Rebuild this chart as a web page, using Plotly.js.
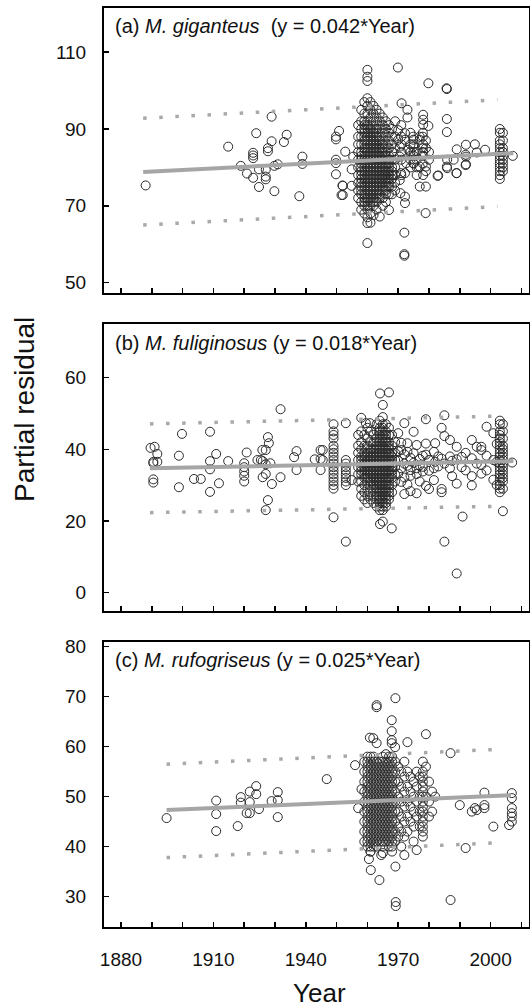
<!DOCTYPE html>
<html>
<head>
<meta charset="utf-8">
<script src="https://cdn.plot.ly/plotly-3.0.1.min.js"></script>
<style>html,body{margin:0;padding:0;background:#fff;}#chart{width:530px;height:1007px;}</style>
</head>
<body>
<div id="chart"></div>
<script>
// ---------- Panel (a) M. giganteus ----------
var aSparseYears = [1888,1914.8,1918.9,1922.9,1922.9,1922.9,1923.9,1920.9,1922.9,1924.8,1924.8,1927,1927,1927,1927.7,1927.7,1928.9,1928.9,1929.8,1930.9,1929.8,1932.9,1933.8,1937.9,1938.9,1938.9,
  1949.8,1950.8,1949.8,1949.8,1949.8,1949.8,1952.8,1951.9,1951.6,1954.9,1955.4,1954.9,1952,1952,
  1971.1,1973,1973,1970,1970,1970.5,1972.2,1972.2,1973.3,1974.9,1974.9,1974.9,1977,1977,1978.1,1978.1,1978.1,1978.1,1978.1,1979.8,1974.9,1977,1978.1,1979,1977,1979,1972.2,1972.2,1972.2,1970.5,1972.6,1970.9,1970.5,1970.7,1972,1972,1972,1978.9,1983,1985.8,1985.8,1979.8,1985.8,1985.8,1988,1988.9,1969.9,
  1974,1974,1974,1974,1974,1974,1975,1975,1975,1975,1976,1976,1976,1976,1978,1978,1978,1978,1978,1979,1979,1979,1971,1971,1971,1971,1971,1971,1980,1980,
  1982.8,1985.7,1985.9,1985.9,1989,1989,1992,1992,1992,1994.9,1995.5,1998.2,1991.9,1991.9,2007.2];
var aSparseResid = [75.3,85.4,80.4,83.8,83.1,82.4,88.9,78.4,77.3,74.9,79.5,77.6,76.9,79.4,85.0,84.2,93.2,86.8,80.4,80.8,73.8,86.6,88.5,72.5,82.8,80.9,
  87.3,89.5,88.0,82.0,81.1,78.2,84.1,75.3,72.8,79.5,82.8,75.2,75.2,72.8,
  96.7,95.0,93.0,89.7,87.2,85.4,88.9,87.2,84.6,88.0,87.2,85.4,88.0,87.2,86.0,84.0,93.7,92.4,91.1,90.8,81.1,80.2,78.0,80.2,75.0,75.0,78.5,72.4,70.7,82.8,81.1,78.5,76.7,73.3,63.0,57.4,57.0,68.1,77.9,92.6,89.2,101.9,100.4,80.2,82.0,78.5,106,
  89,86,84,83,82,80,86,84,83,81,84,82,80,78,89,88,85,83,81,87,85,79,91,88,86,84,82,78,84,82,
  77.8,100.6,82.0,79.8,84.7,78.5,85.9,82.8,80.8,86.0,83.9,84.6,83.3,80.6,83];
var aColumnYears = [1957,1958,1959,1960,1961,1962,1963,1964,1965,1966,1967,1968,1969,2003,2004];
var aColumnResid = [
  [91,88,86,84,82,80,78,76,74,72],
  [95,92,90,88,86,84,83,82,81,80,79,78,77,76,75,74,73,71,69],
  [97,94,92,91,90,89,88,87,86,85,84,83,82,81,80,79,78,77,76,75,74,73,72,71,70,68],
  [105.4,103.6,102.5,98,96,94,92,91,90,89,88,87,86,85,84,83,82,81,80,79,78,77,76,75,74,73,72,71,70,69,67,65.5,60.3],
  [97,95,93,91,90,89,88,87,86,85,84,83,82,81,80,79,78,77,76,75,74,73,72,71,70,68,65.6],
  [96,94,92,90,89,88,87,86,85,84,83,82,81,80,79,78,77,76,75,74,73,72,71,70,67.6],
  [95,93,91,90,89,88,87,86,85,84,83,82,81,80,79,78,77,76,75,74,73,72,71,69],
  [94,92,90,88,87,86,85,84,83,82,81,80,79,78,77,76,75,74,73,72,67.2],
  [93,91,89,87,86,85,84,83,82,81,80,79,78,77,76,75,74,72,70],
  [92,90,88,86,84,83,82,81,80,79,78,77,76,75,74,73,71],
  [91,89,87,85,83,82,81,80,79,78,77,76,75,73,68.9],
  [90,88,86,84,82,80,79,78,77,75,73],
  [92,88,85,82,80,78,76,74],
  [90,89,87,86,85,84,83,82,81,80,79,78,77],
  [89,87,85,84,83,82,81,80,79]
];
var aFitYears = [1887.2, 2007.4];
var aFitResid = [78.8, 83.7];
var aBandYears = [1887.2, 2002.2];
var aBandUpper = [92.8, 97.6];
var aBandLower = [65.0, 69.8];

// ---------- Panel (b) M. fuliginosus ----------
var bSparseYears = [1889.6,1890.9,1891.8,1890.5,1890.5,1891.8,1890.5,1890.5,1898.8,1899.8,1898.8,1903.7,1905.9,1908.9,1908.9,1908.9,1910.9,1908.9,1911.8,1914.8,1920.8,1920,1920,1920,1920,1920,1924.3,1925.4,1925.9,1927,1928,1927.7,1926,1927,1928.5,1926,1927,1929,1927.7,1927,1931.8,1931.8,1937,1936.2,1937,1942.9,1944.8,1944.8,1944.8,
  1945.5,1945.5,1949,1953,1953,1954.9,
  1958,1959.5,1960.8,1964.1,1967,1965,1964.1,1965,1967.9,
  1970,1970,1970,1970,1971,1971,1971,1971,1972,1972,1972,1972,1972,1973,1973,1973,1973,1974,1974,1974,1974,1975,1975,1975,1976,1976,1976,1976,1977,1977,1977,1978,1978,1978,1979,1979,1979,1979,1980,1980,1980,
  1981.6,1981.6,1981.6,1982,1982,1983,1983,1984.1,1984.1,1984.1,1984.1,1985,1985,1985,1985,1986.8,1986.8,1986.8,1987.5,1987.5,1989,1989,1989,1989,1990.6,1990.6,1990.9,1991.9,1991.9,1993.9,1993.9,1993.9,1993.9,1995.5,1995.5,1997,1997,1997,1997,1998.7,1998.7,1998.7,2000.9,2000.9,2000.9,2002,2002,2002,2007,2004];
var bSparseResid = [40.4,40.7,38.7,36.5,36.1,36.5,31.6,30.7,38.2,44.3,29.4,31.7,31.7,44.9,36.7,34.4,38.7,28.1,30.5,36.7,39.1,36.1,35.0,33.8,32.6,31.0,37.0,37.0,39.8,39.8,41.7,43.4,36.7,35.8,36.1,32.2,33.1,30.3,25.8,23.0,51.2,32.2,39.5,37.8,34.2,37.2,39.8,37.3,34.2,
  39.8,37.0,21.0,47.3,14.2,31.4,
  48.8,47.3,47.3,55.6,55.9,52.4,19.1,19.8,17.9,
  44.5,39.5,36.8,33.2,41.8,39.8,34.7,30.9,47.3,38.6,36.0,32.1,27.5,41.7,39.3,35.4,30.2,37.6,34.2,32.6,28.3,44.9,38.9,36.2,41.2,34.7,33.1,27.7,37.3,35.5,31.0,35.1,33.8,38.2,48.4,41.6,38.5,29.8,37.0,28.9,34.0,
  39.3,34.7,31.4,41.7,36.5,38.0,35.2,46.0,28.9,28.0,37.4,49.5,43.7,36.0,14.2,42.6,34.7,38.0,32.5,36.8,40.7,30.4,5.3,37.2,37.9,35.0,21.2,34.1,39.0,42.6,32.5,29.9,37.5,40.7,36.0,40.7,39.8,35.6,33.2,46.3,34.1,38.2,44.5,37.0,31.5,41.5,36.5,30.0,36.3,22.7];
var bColumnYears = [1949,1953,1957,1958,1959,1960,1961,1962,1963,1964,1965,1966,1967,1968,1969,2003,2004];
var bColumnResid = [
  [47,45,44,43,41,40,39,38,37,36,35,34,33,32,31,30,29],
  [37,36,35,34,33,32,31,30],
  [44,41,39,37,35,33,31],
  [45,42,40,38,37,36,35,34,33,31,29,27],
  [44,41,39,38,37,36,35,34,33,32,30,28,26],
  [46,43,41,40,39,38,37,36,35,34,33,32,31,29,27,25],
  [45,42,40,39,38,37,36,35,34,33,32,31,30,28,26],
  [44,42,40,39,38,37,36,35,34,33,32,31,30,29,27,25],
  [47,45,43,42,41,40,39,38,37,36,35,34,33,32,31,30,29,28,27,26,24],
  [48,46,45,44,43,42,41,40,39,38,37,36,35,34,33,32,31,30,29,28,27,26,25,24,23],
  [49,47,46,45,44,43,42,41,40,39,38,37,36,35,34,33,32,31,30,29,28,27,26,25,24,23],
  [47,45,44,43,42,41,40,39,38,37,36,35,34,33,32,31,30,29,28,27,26,25,24],
  [46,44,42,41,40,39,38,37,36,35,34,33,32,31,30,29,28,27,26],
  [44,41,39,38,37,36,35,34,33,32,30,28],
  [42,39,37,35,33,31],
  [48,47,45,44,43,42,41,40,39,38,37,36,35,34,33,32,31,30,29,28],
  [47,45,43,41,40,39,38,37,36,35,34,33,32,31,29]
];
var bFitYears = [1889.4, 2007.4];
var bFitResid = [34.7, 36.7];
var bBandYears = [1889.4, 2004];
var bBandUpper = [47.1, 49.3];
var bBandLower = [22.3, 24.1];

// ---------- Panel (c) M. rufogriseus ----------
var cSparseYears = [1894.8,1910.9,1910.9,1910.9,1917.9,1918.9,1918.9,1920.8,1921.8,1921.8,1921.8,1923.9,1923.9,1924.8,1928.9,1930.9,1930.9,1930.9,1946.8,1956,1957,1958.1,
  1963,1963,1969.1,1967.9,1967.9,1967.9,1967.9,1969,1960.8,1961.9,1963,1966,
  1961.1,1963.9,1969.1,1969.2,1969.2,1964.5,1965,1960.5,1961,
  1970,1970,1970,1970,1970,1970,1971,1971,1971,1971,1971,1971,1972,1972,1972,1972,1972,1972,1972,1973,1973,1973,1973,1973,1973,1974,1974,1974,1974,1975,1975,1975,1975,1975,1976,1976,1976,1976,1976,1977,1977,1977,1977,1979,1979,1979,1980,1980,1980,1981,1981,1982,
  1987,1987,1990,1991.9,1993.9,1995.5,1994.9,1998,1998,1998,2000.9,2006,2006.9,2006.9,2006.9,2006.9,2006.9,2006.9];
var cSparseResid = [45.7,49.2,46.5,43.1,44.1,49.9,48.8,46.7,46.7,51.0,48.9,52.1,50.5,47.5,49.1,50.9,49.3,45.9,53.5,56.3,47.7,51.5,
  68.3,67.9,69.7,65.3,63.1,61.3,60.7,59.9,61.8,61.7,60.7,58.5,
  35.3,33.3,36.0,28.9,28.1,38.3,38.7,37.5,39,
  56,53,50,47,44,42,55,52,49,46,43,40,57,54,51,48,45,42,38.3,60.9,55,52,49,46,43,54,51,48,45,53,50,47,44,41,55,52,49,46,39.3,54,50,47,44,62.5,56,50,53,49,46,51,47,50,
  58.7,29.3,48.3,39.7,47.0,47.3,47.7,50.8,48.3,47.7,44.0,44.3,50.7,49.7,47.7,46.7,46.0,45.0];
var cColumnYears = [1959,1960,1961,1962,1963,1964,1965,1966,1967,1968,1969,1978];
var cColumnResid = [
  [57,55,53,51,49,47,45,43,41],
  [58,57,56,55,54,53,52,51,50,49,48,47,46,45,44,43,42,41,40],
  [58,57,56,55,54,53,52,51,50,49,48,47,46,45,44,43,42,41,40,39],
  [58,57,56,55,54,53,52,51,50,49,48,47,46,45,44,43,42,41,40],
  [57,56,55,54,53,52,51,50,49,48,47,46,45,44,43,42,41,40],
  [57,56,55,54,53,52,51,50,49,48,47,46,45,44,43,42,41],
  [58,57,56,55,54,53,52,51,50,49,48,47,46,45,44,43,42,41,40],
  [57,56,55,54,53,52,51,50,49,48,47,46,45,44,43,42,41],
  [58,57,56,55,54,53,52,51,50,49,48,47,46,45,44,43,42,41,40],
  [58,57,56,55,54,53,52,51,50,49,48,47,46,45,44,43,42,41,40,39],
  [57,55,53,51,49,47,45,43,41],
  [57,55,54,53,52,51,50,49,48,47,46,45,44,43,42]
];
var cFitYears = [1894.8, 2006.6];
var cFitResid = [47.3, 50.3];
var cBandYears = [1894.8, 2004];
var cBandUpper = [56.5, 59.5];
var cBandLower = [37.8, 40.8];

// ---------- axis labels ----------
var yearTickVals = [1880,1890,1900,1910,1920,1930,1940,1950,1960,1970,1980,1990,2000,2010];
var yearTickText = ['1880','','','1910','','','1940','','','1970','','','2000',''];
var aTicks = [50,70,90,110];
var bTicks = [0,20,40,60];
var cTicks = [30,40,50,60,70,80];

function combine(sx, sy, colX, colY) {
  var xs = sx.slice(), ys = sy.slice();
  colX.forEach(function (yr, i) {
    colY[i].forEach(function (v) { xs.push(yr); ys.push(v); });
  });
  return {x: xs, y: ys};
}

var FONT = 'Liberation Sans, Arial, Helvetica, sans-serif';
var PT = {symbol: 'circle-open', size: 9, color: '#2b2b2b', line: {width: 1, color: '#2b2b2b'}};
var FIT = {color: '#a6a6a6', width: 4};
var BAND = {color: '#a9a9a9', width: 3.5, dash: '3.5px,12.6px'};

var panels = [
  {s: combine(aSparseYears, aSparseResid, aColumnYears, aColumnResid), fx: aFitYears, fy: aFitResid, bx: aBandYears, bu: aBandUpper, bl: aBandLower, xa: 'x', ya: 'y'},
  {s: combine(bSparseYears, bSparseResid, bColumnYears, bColumnResid), fx: bFitYears, fy: bFitResid, bx: bBandYears, bu: bBandUpper, bl: bBandLower, xa: 'x2', ya: 'y2'},
  {s: combine(cSparseYears, cSparseResid, cColumnYears, cColumnResid), fx: cFitYears, fy: cFitResid, bx: cBandYears, bu: cBandUpper, bl: cBandLower, xa: 'x3', ya: 'y3'}
];

var traces = [];
panels.forEach(function (p) {
  traces.push({x: p.s.x, y: p.s.y, type: 'scatter', mode: 'markers', marker: PT, xaxis: p.xa, yaxis: p.ya, hoverinfo: 'skip'});
  traces.push({x: p.bx, y: p.bu, type: 'scatter', mode: 'lines', line: BAND, xaxis: p.xa, yaxis: p.ya});
  traces.push({x: p.bx, y: p.bl, type: 'scatter', mode: 'lines', line: BAND, xaxis: p.xa, yaxis: p.ya});
  traces.push({x: p.fx, y: p.fy, type: 'scatter', mode: 'lines', line: FIT, xaxis: p.xa, yaxis: p.ya});
});

function xAxis(anchor, showLabels) {
  return {
    domain: [0, 1], anchor: anchor, range: [1874.48, 2012.47],
    tickvals: yearTickVals, ticktext: showLabels ? yearTickText : yearTickVals.map(function(){return '';}),
    ticks: 'inside', ticklen: 5, tickwidth: 1.5, tickcolor: '#000',
    showline: true, linecolor: '#000', linewidth: 2, mirror: true,
    showgrid: false, zeroline: false,
    tickfont: {family: FONT, size: 19, color: '#111'},
    ticklabelstandoff: 14
  };
}
function yAxis(anchor, domain, range, ticks) {
  return {
    domain: domain, anchor: anchor, range: range, tickvals: ticks,
    ticks: 'inside', ticklen: 5, tickwidth: 1.5, tickcolor: '#000',
    showline: true, linecolor: '#000', linewidth: 2, mirror: true,
    showgrid: false, zeroline: false,
    tickfont: {family: FONT, size: 19, color: '#111'},
    ticklabelstandoff: 12
  };
}

var layout = {
  width: 530, height: 1007,
  margin: {l: 104, r: 1, t: 8, b: 80},
  paper_bgcolor: '#fff', plot_bgcolor: '#fff',
  showlegend: false,
  xaxis: xAxis('y', false),
  yaxis: yAxis('x', [0.6899, 1.0], [47.3, 121.5], aTicks),
  xaxis2: xAxis('y2', false),
  yaxis2: yAxis('x2', [0.3442, 0.6561], [-5.1, 75.0], bTicks),
  xaxis3: xAxis('y3', true),
  yaxis3: yAxis('x3', [0, 0.3104], [23.9, 81.0], cTicks),
  annotations: [
    {text: '(a) <i>M. giganteus</i> \u00a0(y = 0.042*Year)', xref: 'paper', yref: 'paper', x: 0.0205, y: 0.9804, xanchor: 'left', yanchor: 'middle', showarrow: false, font: {family: FONT, size: 20, color: '#111'}},
    {text: '(b) <i>M. fuliginosus</i> (y = 0.018*Year)', xref: 'paper', yref: 'paper', x: 0.0205, y: 0.6355, xanchor: 'left', yanchor: 'middle', showarrow: false, font: {family: FONT, size: 20, color: '#111'}},
    {text: '(c) <i>M. rufogriseus</i> (y = 0.025*Year)', xref: 'paper', yref: 'paper', x: 0.0205, y: 0.2905, xanchor: 'left', yanchor: 'middle', showarrow: false, font: {family: FONT, size: 20, color: '#111'}},
    {text: 'Partial residual', xref: 'paper', yref: 'paper', x: -0.186, y: 0.5637, xanchor: 'center', yanchor: 'middle', textangle: -90, showarrow: false, font: {family: FONT, size: 28, color: '#111'}},
    {text: 'Year', xref: 'paper', yref: 'paper', x: 0.508, y: -0.0718, xanchor: 'center', yanchor: 'middle', showarrow: false, font: {family: FONT, size: 26, color: '#111'}}
  ]
};

Plotly.newPlot('chart', traces, layout, {displayModeBar: false, staticPlot: true});
</script>
</body>
</html>
